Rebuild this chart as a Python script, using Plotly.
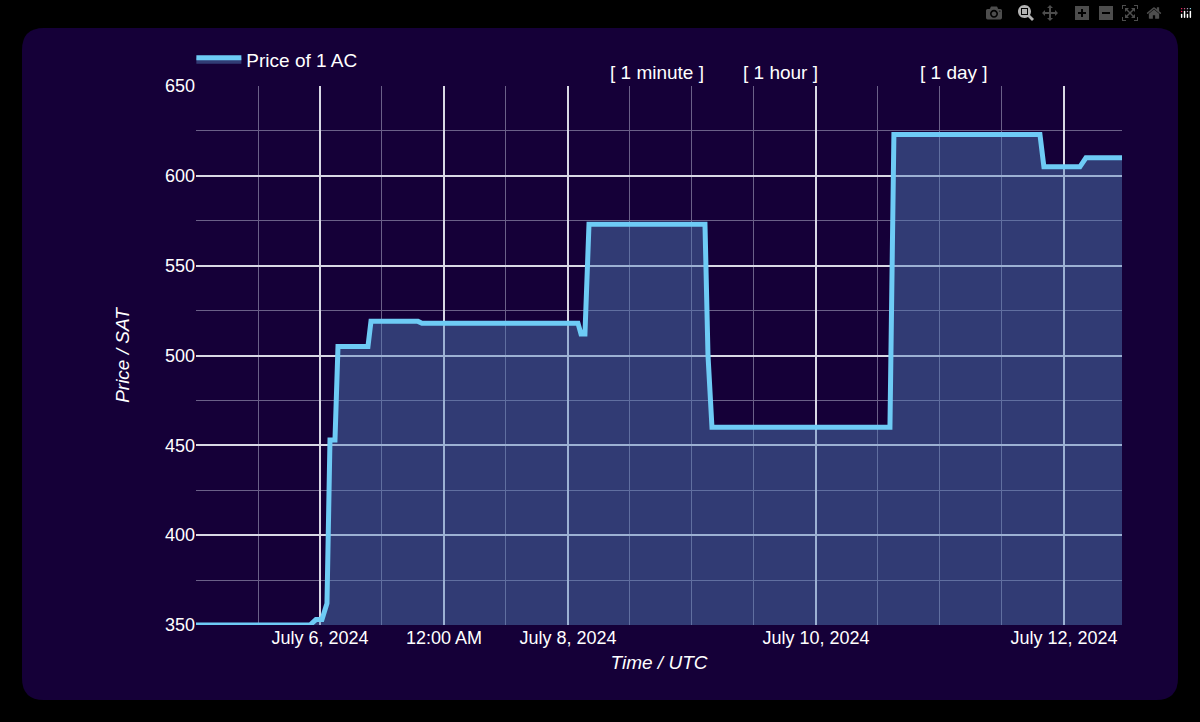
import plotly.graph_objects as go

# Price series (UTC timestamps, price in SAT)
times = [
    "2024-07-05 00:00", "2024-07-05 22:04", "2024-07-05 23:13", "2024-07-06 00:23",
    "2024-07-06 01:21", "2024-07-06 01:56", "2024-07-06 02:54", "2024-07-06 03:29",
    "2024-07-06 09:17", "2024-07-06 09:52", "2024-07-06 18:58", "2024-07-06 19:44",
    "2024-07-08 01:56", "2024-07-08 02:31", "2024-07-08 03:17", "2024-07-08 04:04",
    "2024-07-09 02:31", "2024-07-09 03:06", "2024-07-09 03:52", "2024-07-10 14:19",
    "2024-07-10 15:05", "2024-07-11 19:21", "2024-07-11 20:07", "2024-07-12 03:05",
    "2024-07-12 04:15", "2024-07-12 11:14",
]
prices = [
    350, 350, 353, 353,
    362, 453, 453, 505,
    505, 519, 519, 518,
    518, 512, 512, 573,
    573, 500, 460, 460,
    623, 623, 605, 605,
    610, 610,
]

tick_vals = ["2024-07-06", "2024-07-07", "2024-07-08", "2024-07-10", "2024-07-12"]
tick_text = ["July 6, 2024", "12:00 AM", "July 8, 2024", "July 10, 2024", "July 12, 2024"]
range_buttons = ["[ 1 minute ]", "[ 1 hour ]", "[ 1 day ]"]

PANEL = "#150038"
FONT = "Liberation Sans, Arial, sans-serif"

fig = go.Figure(
    go.Scatter(
        x=times, y=prices, mode="lines", name="Price of 1 AC",
        line=dict(color="#6ecbf5", width=5),
        fill="tozeroy", fillcolor="rgba(85,130,190,0.45)",
    )
)

# rounded panel behind the plot (paper coords computed from pixels)
W, H, L, B, PW, PH = 1200, 722, 196, 97, 926, 539
def px(x):
    return (x - L) / PW
def py(y):
    return (H - B - y) / PH
x0, x1, y0, y1, r = 22, 1178, 28, 700, 22
path = (
    f"M {px(x0 + r)} {py(y0)} L {px(x1 - r)} {py(y0)} Q {px(x1)} {py(y0)} {px(x1)} {py(y0 + r)} "
    f"L {px(x1)} {py(y1 - r)} Q {px(x1)} {py(y1)} {px(x1 - r)} {py(y1)} "
    f"L {px(x0 + r)} {py(y1)} Q {px(x0)} {py(y1)} {px(x0)} {py(y1 - r)} "
    f"L {px(x0)} {py(y0 + r)} Q {px(x0)} {py(y0)} {px(x0 + r)} {py(y0)} Z"
)
fig.add_shape(type="path", path=path, xref="paper", yref="paper",
              fillcolor=PANEL, line=dict(width=0), layer="below")

for label, xp in zip(range_buttons, [657, 820, 990]):
    fig.add_annotation(text=label, x=px(xp), y=py(60), xref="paper", yref="paper",
                       showarrow=False, font=dict(size=19, color="white", family=FONT))

fig.update_layout(
    width=W, height=H,
    margin=dict(l=L, r=W - L - PW, t=86, b=B),
    paper_bgcolor="black", plot_bgcolor="rgba(0,0,0,0)",
    font=dict(family=FONT, color="white", size=18),
    showlegend=True,
    legend=dict(x=-0.005, y=py(60), xanchor="left", yanchor="middle",
                bgcolor="rgba(0,0,0,0)", font=dict(size=19), itemwidth=45),
    xaxis=dict(
        type="date", range=["2024-07-05 00:00", "2024-07-12 11:14"],
        tickvals=tick_vals, ticktext=tick_text, ticks="",
        showgrid=True, gridcolor="#d8d8e4", gridwidth=1.5,
        minor=dict(dtick=12 * 3600 * 1000, tick0="2024-07-05", showgrid=True,
                   gridcolor="#6a6088", gridwidth=1),
        zeroline=False, showline=False,
        title=dict(text="<i>Time / UTC</i>", font=dict(size=19), standoff=8),
    ),
    yaxis=dict(
        range=[350, 650], dtick=50, ticks="",
        showgrid=True, gridcolor="#d8d8e4", gridwidth=1.5,
        minor=dict(dtick=25, showgrid=True, gridcolor="#6a6088", gridwidth=1),
        zeroline=False, showline=False,
        title=dict(text="<i>Price / SAT</i>", font=dict(size=19), standoff=30),
    ),
)

fig.write_html("out.html", post_script="document.body.style.margin='0';")
